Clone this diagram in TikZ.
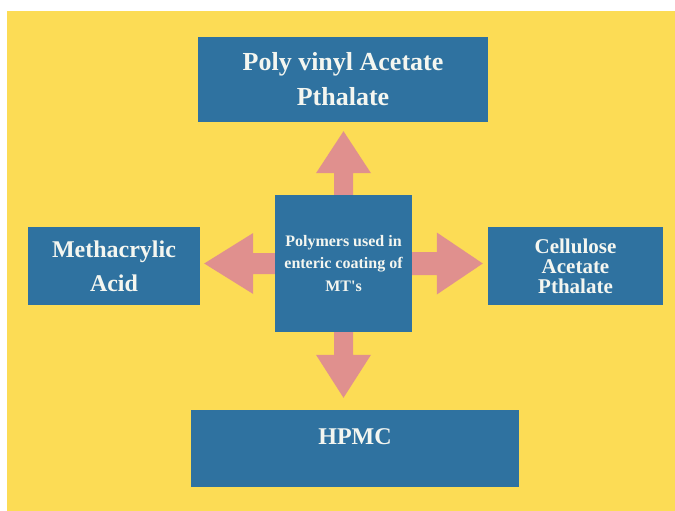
\documentclass[tikz,border=0pt]{standalone}
\usepackage{fontspec}
\setmainfont{Liberation Serif}
\usetikzlibrary{calc}
\definecolor{bgyellow}{RGB}{252,220,85}
\definecolor{boxblue}{RGB}{47,114,160}
\definecolor{arrowpink}{RGB}{224,144,142}
\definecolor{boxtext}{RGB}{244,246,240}
\newcommand\fatarrow[5]{%
  \coordinate (fa-n) at ($(#2)!#5!(#1)$);
  \fill[arrowpink] ($(#1)!#3!90:(#2)$) -- ($(fa-n)!#3!90:(#2)$) -- ($(fa-n)!#4!90:(#2)$) -- (#2)
    -- ($(fa-n)!#4!-90:(#2)$) -- ($(fa-n)!#3!-90:(#2)$) -- ($(#1)!#3!-90:(#2)$) -- cycle;}
\begin{document}
\begin{tikzpicture}[x=1pt,y=-1pt,
  box/.style={fill=boxblue, text=boxtext, inner sep=0pt, align=center, font=\bfseries}]
\useasboundingbox (0,0) rectangle (675,511);
\fill[white] (0,0) rectangle (675,511);
\fill[bgyellow] (7,11) rectangle (675,511);

\node[box, minimum width=290pt, minimum height=85pt,
  font=\bfseries\fontsize{26}{35}\selectfont] (top) at (343,79.5) {Poly vinyl Acetate\\Pthalate};
\node[box, minimum width=172pt, minimum height=78pt,
  font=\bfseries\fontsize{24}{34}\selectfont] (left) at (114,266) {Methacrylic\\Acid};
\node[box, minimum width=137pt, minimum height=137pt,
  font=\bfseries\fontsize{16}{22.5}\selectfont] (c) at (343.5,263.5) {Polymers used in\\enteric coating of\\MT\textquotesingle s};
\node[box, minimum width=175pt, minimum height=78pt,
  font=\bfseries\fontsize{21}{20}\selectfont] (right) at (575.5,266) {Cellulose\\Acetate\\Pthalate};
\node[box, minimum width=328pt, minimum height=77pt, text depth=24pt,
  font=\bfseries\fontsize{24}{28}\selectfont] (bottom) at (355,448.5) {HPMC};

\coordinate (upTip) at ($(c.north |- top.south)+(0,9)$);
\coordinate (downTip) at ($(c.south |- bottom.north)+(0,-12)$);
\coordinate (leftTip) at ($(c.west -| left.east)+(4,0)$);
\coordinate (rightTip) at ($(c.east -| right.west)+(-5,0)$);

\fatarrow{c.north}{upTip}{9.5pt}{27.5pt}{42pt}
\fatarrow{c.south}{downTip}{9.5pt}{27.5pt}{43pt}
\fatarrow{c.west}{leftTip}{10.5pt}{30.5pt}{49pt}
\fatarrow{c.east}{rightTip}{11.5pt}{31pt}{46pt}
\end{tikzpicture}
\end{document}
